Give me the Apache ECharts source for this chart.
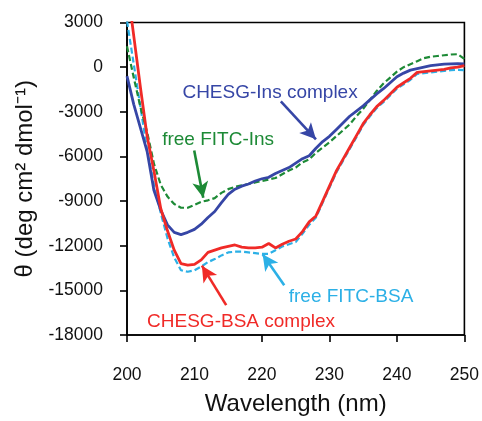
<!DOCTYPE html>
<html>
<head>
<meta charset="utf-8">
<script src="https://cdn.jsdelivr.net/npm/echarts@6/dist/echarts.min.js"></script>
<style>html,body{margin:0;padding:0;background:#fff;}#c{width:482px;height:421px;}</style>
</head>
<body>
<div id="c"></div>
<script>
const wavelength = [200,201,202,203,204,205,206,207,208,209,210,211,212,213,214,215,216,217,218,219,220,221,222,223,224,225,226,227,228,229,230,231,232,233,234,235,236,237,238,239,240,241,242,243,244,245,246,247,248,249,250];
const chesgIns = [-600,-2500,-4100,-5700,-8300,-9600,-10600,-11100,-11250,-11100,-10900,-10550,-10100,-9700,-9100,-8550,-8200,-8000,-7850,-7650,-7500,-7400,-7150,-6950,-6750,-6450,-6150,-5950,-5450,-5000,-4650,-4200,-3750,-3300,-2950,-2600,-2200,-1800,-1450,-1050,-650,-400,-200,-100,0,100,150,200,220,230,220];
const freeFitcIns = [1400,-700,-2700,-4400,-6500,-7900,-8700,-9200,-9450,-9450,-9250,-9050,-8950,-8800,-8450,-8200,-8050,-7950,-7850,-7750,-7650,-7550,-7450,-7200,-6950,-6750,-6400,-6200,-5750,-5400,-5050,-4650,-4250,-3850,-3300,-2800,-2200,-1600,-1100,-700,-300,0,200,400,600,700,750,800,850,870,550];
const chesgBsa = [5600,2100,-1400,-4700,-7000,-9500,-11000,-12300,-13200,-13300,-13250,-12950,-12450,-12300,-12150,-12050,-11950,-12100,-12150,-12150,-12100,-11850,-12150,-11900,-11700,-11550,-11050,-10400,-10000,-9000,-8000,-7000,-6200,-5400,-4600,-3800,-3200,-2650,-2250,-1800,-1350,-1050,-750,-350,-300,-250,-200,-150,-50,0,100];
const freeFitcBsa = [3100,200,-2700,-5600,-7900,-9800,-11500,-12800,-13650,-13750,-13650,-13400,-13100,-12900,-12650,-12450,-12400,-12400,-12450,-12500,-12550,-12550,-12300,-12050,-11900,-11750,-11200,-10600,-10100,-9100,-8100,-7100,-6300,-5500,-4700,-3900,-3300,-2750,-2350,-1900,-1450,-1150,-850,-450,-400,-350,-300,-250,-200,-180,-200];

const xTicks = [200,210,220,230,240,250];
const yTicks = [3000,0,-3000,-6000,-9000,-12000,-15000,-18000];

// annotations: [label, labelX, labelY, arrowFromX, arrowFromY, arrowToX, arrowToY]
const annInsComplex = ['CHESG-Ins complex', 221.2, -1700, 222.8, -2300, 228.0, -4850];
const annFreeIns = ['free FITC-Ins', 213.5, -4850, 209.96, -5600, 211.3, -8780];
const annBsaComplex = ['CHESG-BSA complex', 216.9, -17100, 214.7, -15990, 211.1, -13340];
const annFreeBsa = ['free FITC-BSA', 233.2, -15450, 223.3, -14660, 220.1, -12570];

const FONT = 'Liberation Sans, Arial, Helvetica, sans-serif';
const cBlue = '#3646a6', cGreen = '#1d8a36', cRed = '#f02a27', cCyan = '#2cb0e6';

function pairs(ys){ return wavelength.map((x,i)=>[x, ys[i]]); }

function arrowLine(a, color){
  return {
    silent: true,
    symbol: ['none','arrow'],
    symbolSize: [12, 16],
    label: {show:false},
    lineStyle: {color: color, width: 2.6, type: 'solid'},
    data: [[{coord:[a[3],a[4]]},{coord:[a[5],a[6]]}]],
    animation: false
  };
}

const chart = echarts.init(document.getElementById('c'), null, {renderer:'canvas'});
const option = {
  animation: false,
  backgroundColor: '#fff',
  grid: {left: 127, right: 17, top: 22.5, bottom: 81, show: true, borderColor: '#000', borderWidth: 1.6, containLabel: false},
  xAxis: {
    type: 'value', min: 200, max: 250, interval: 10,
    name: 'Wavelength (nm)', nameLocation: 'middle', nameGap: 57,
    nameTextStyle: {fontFamily: FONT, fontSize: 24, color: '#111'},
    axisLine: {show: true, onZero: false, lineStyle: {color: '#000', width: 1.6}},
    axisTick: {show: true, inside: false, length: 7, lineStyle: {color: '#000', width: 1.6}},
    axisLabel: {fontFamily: FONT, fontSize: 17.5, color: '#111', margin: 31,
      formatter: v => xTicks.indexOf(v) >= 0 ? String(v) : ''},
    splitLine: {show: false}
  },
  yAxis: {
    type: 'value', min: -18000, max: 3000, interval: 3000,
    name: 'θ (deg cm² dmol⁻¹)', nameLocation: 'middle', nameGap: 88, nameRotate: 90,
    nameTextStyle: {fontFamily: FONT, fontSize: 24, color: '#111'},
    axisLine: {show: true, onZero: false, lineStyle: {color: '#000', width: 1.6}},
    axisTick: {show: true, inside: false, length: 7, lineStyle: {color: '#000', width: 1.6}},
    axisLabel: {fontFamily: FONT, fontSize: 17.5, color: '#111', margin: 24,
      formatter: v => yTicks.indexOf(v) >= 0 ? String(v) : ''},
    splitLine: {show: false}
  },
  series: [
    {name: 'free FITC-BSA', type: 'line', data: pairs(freeFitcBsa), showSymbol: false, clip: true,
      lineStyle: {color: cCyan, width: 2.2, type: [6,3]}, markLine: arrowLine(annFreeBsa, cCyan)},
    {name: 'free FITC-Ins', type: 'line', data: pairs(freeFitcIns), showSymbol: false, clip: true,
      lineStyle: {color: cGreen, width: 2.2, type: [6,3]}, markLine: arrowLine(annFreeIns, cGreen)},
    {name: 'CHESG-Ins complex', type: 'line', data: pairs(chesgIns), showSymbol: false, clip: true,
      lineStyle: {color: cBlue, width: 2.8}, markLine: arrowLine(annInsComplex, cBlue)},
    {name: 'CHESG-BSA complex', type: 'line', data: pairs(chesgBsa), showSymbol: false, clip: true,
      lineStyle: {color: cRed, width: 2.8}, markLine: arrowLine(annBsaComplex, cRed)}
  ]
};
chart.setOption(option);

const anns = [[annInsComplex, cBlue],[annFreeIns, cGreen],[annBsaComplex, cRed],[annFreeBsa, cCyan]];
const g = anns.map(([a, col]) => {
  const p = chart.convertToPixel({gridIndex: 0}, [a[1], a[2]]);
  return {type: 'text', x: p[0], y: p[1], silent: true,
    style: {text: a[0], fill: col, fontFamily: FONT, fontSize: 19, align: 'center', verticalAlign: 'middle'}};
});
chart.setOption({graphic: g});
</script>
</body>
</html>
